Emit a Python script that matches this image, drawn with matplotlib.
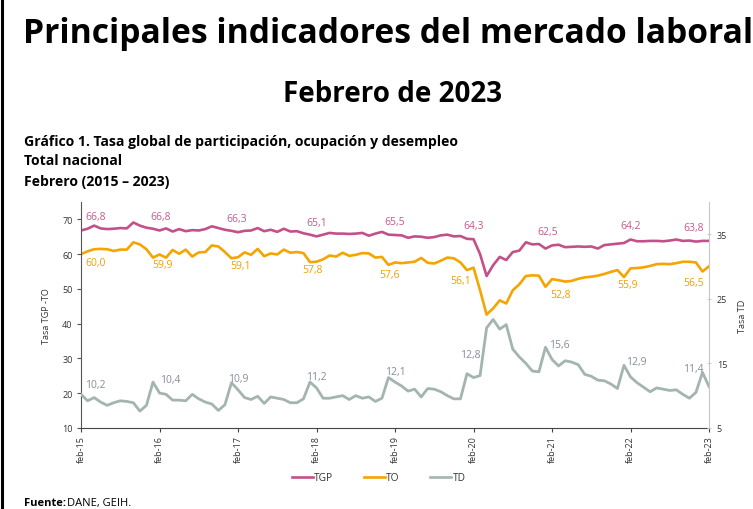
import numpy as np
import matplotlib
matplotlib.use('Agg')
import matplotlib.pyplot as plt
from matplotlib.lines import Line2D

plt.rcParams['font.family'] = ['Open Sans', 'DejaVu Sans']

# monthly series, feb-2015 .. feb-2023
tgp = [66.8, 67.3, 68.2, 67.4, 67.2, 67.3, 67.5, 67.4, 69.1, 68.2, 67.6, 67.3,
       66.8, 67.4, 66.5, 67.2, 66.6, 66.9, 66.8, 67.2, 68.0, 67.5, 67.0, 66.7,
       66.3, 66.7, 66.8, 67.5, 66.6, 67.0, 66.4, 67.3, 66.5, 66.6, 66.0, 65.6,
       65.1, 65.6, 66.1, 65.9, 65.9, 65.8, 65.9, 66.1, 65.3, 65.9, 66.4, 65.6,
       65.5, 65.4, 64.7, 65.1, 65.0, 64.7, 64.9, 65.4, 65.6, 65.1, 65.2, 64.4,
       64.3, 60.0, 53.7, 56.8, 59.2, 58.3, 60.6, 61.0, 63.4, 62.8, 62.9, 61.6,
       62.5, 62.7, 62.0, 62.1, 62.2, 62.1, 62.2, 61.6, 62.6, 62.8, 63.0, 63.2,
       64.2, 63.7, 63.7, 63.8, 63.8, 63.7, 63.9, 64.2, 63.8, 63.9, 63.6, 63.8,
       63.8]
to = [60.0, 60.8, 61.4, 61.5, 61.4, 60.9, 61.3, 61.3, 63.4, 62.8, 61.4, 59.0,
      59.9, 59.0, 61.2, 60.1, 61.3, 59.3, 60.5, 60.6, 62.5, 62.2, 60.6, 58.8,
      59.1, 60.5, 59.8, 61.5, 59.4, 60.2, 59.9, 61.3, 60.4, 60.6, 60.3, 57.7,
      57.8, 58.5, 59.6, 59.3, 60.4, 59.5, 59.8, 60.3, 60.2, 59.0, 59.2, 56.9,
      57.6, 57.4, 57.6, 57.8, 58.9, 57.5, 57.3, 58.1, 59.0, 58.8, 57.6, 55.4,
      56.1, 49.6, 42.6, 44.4, 46.7, 45.8, 49.6, 51.3, 53.7, 53.9, 53.8, 50.6,
      52.8, 52.5, 52.1, 52.3, 52.9, 53.3, 53.5, 53.8, 54.3, 54.9, 55.4, 53.4,
      55.9, 56.0, 56.2, 56.6, 57.1, 57.2, 57.1, 57.4, 57.8, 57.8, 57.6, 55.0,
      56.5]
td = [10.2, 9.2, 9.7, 9.0, 8.5, 8.9, 9.2, 9.1, 8.9, 7.6, 8.5, 12.1,
      10.4, 10.2, 9.3, 9.3, 9.2, 10.2, 9.5, 9.0, 8.7, 7.7, 8.6, 12.0,
      10.9, 9.7, 9.4, 9.9, 8.8, 9.8, 9.6, 9.4, 8.9, 8.9, 9.5, 12.1,
      11.2, 9.6, 9.6, 9.8, 10.0, 9.4, 10.0, 9.6, 9.8, 9.1, 9.6, 12.8,
      12.1, 11.5, 10.7, 11.0, 9.8, 11.1, 11.0, 10.6, 10.0, 9.5, 9.5, 13.4,
      12.8, 13.1, 20.5, 21.8, 20.3, 21.0, 17.2, 16.0, 15.0, 13.8, 13.7, 17.5,
      15.6, 14.6, 15.4, 15.2, 14.8, 13.3, 13.0, 12.4, 12.3, 11.8, 11.1, 14.7,
      12.9, 12.0, 11.3, 10.6, 11.2, 11.0, 10.8, 10.9, 10.2, 9.6, 10.5, 13.6,
      11.4]

x_labels = ['feb-15', 'feb-16', 'feb-17', 'feb-18', 'feb-19',
            'feb-20', 'feb-21', 'feb-22', 'feb-23']

c_tgp = '#C4508A'
c_to = '#F5A400'
c_td = '#A4B4B1'

fig = plt.figure(figsize=(7.53, 5.10), dpi=100)
ax = fig.add_axes([0.1076, 0.159, 0.834, 0.443])
ax2 = ax.twinx()

x = np.arange(len(tgp))
feb = x[::12]

ax.plot(x, tgp, color=c_tgp, lw=1.9, solid_joinstyle='round')
ax.plot(x, to, color=c_to, lw=1.9, solid_joinstyle='round')
ax2.plot(x, td, color=c_td, lw=2.0, solid_joinstyle='round')

ax.set_xlim(0, len(tgp) - 1)
ax.set_ylim(10, 75)
ax.set_yticks(range(10, 71, 10))
ax2.set_ylim(5, 40)
ax2.set_yticks([5, 15, 25, 35])
ax.set_xticks(feb)
ax.set_xticklabels(x_labels, rotation=90)

for a in (ax, ax2):
    a.spines['top'].set_visible(False)
ax.spines['left'].set_color('#555555')
ax.spines['bottom'].set_color('#444444')
ax.spines['right'].set_visible(False)
ax2.spines['left'].set_visible(False)
ax2.spines['bottom'].set_visible(False)
ax2.spines['right'].set_color('#C8C8C8')
ax.tick_params(axis='y', labelsize=6.5, length=3, color='#555555', labelcolor='#333333', pad=3)
ax.tick_params(axis='x', labelsize=6.5, length=3, color='#444444', labelcolor='#333333', pad=2)
ax2.tick_params(axis='y', labelsize=6.5, length=3, direction='inout', color='#C8C8C8',
                labelcolor='#333333', pad=4)

ax.set_ylabel('Tasa TGP -TO', fontsize=6.5, color='#333333', labelpad=8)
ax2.set_ylabel('Tasa TD', fontsize=6.5, color='#333333', labelpad=8)


def fmt(v):
    return f'{v:.1f}'.replace('.', ',')


def label_series(axis, vals, color, dys, va, dxs):
    n = len(feb)
    for k, i in enumerate(feb):
        ha = 'center'
        dx = dxs[k]
        if k == 0:
            ha = 'left'
        elif k == n - 1:
            ha = 'right'
        axis.annotate(fmt(vals[i]), (i, vals[i]), xytext=(dx, dys[k]),
                      textcoords='offset points', ha=ha, va=va,
                      fontsize=7.5, color=color)


# label nudges (points), as placed in the original chart
label_series(ax, tgp, '#C45A8F', [6] * 9, 'bottom',
             [3, 1, -1, 0, 0, 0, -3, 0, -4])
label_series(ax, to, '#F0A000', [-2, -3.5, -2, -1.5, -5, -5, -7, -8, -8], 'top',
             [3, 2, 2, -3, -4, -9, 6, -2, -4])
label_series(ax2, td, '#868C99', [3, 6, 4, 4, 4, 12.5, 7, 7, 9], 'bottom',
             [3, 8, 0, 0, 0, -2, 5, 4, -4])

handles = [Line2D([], [], color=c_tgp, lw=1.9),
           Line2D([], [], color=c_to, lw=1.9),
           Line2D([], [], color=c_td, lw=1.9)]
fig.legend(handles, ['TGP', 'TO', 'TD'], loc='center', bbox_to_anchor=(0.503, 0.061),
           ncol=3, frameon=False, fontsize=7.3, handlelength=2.1, handletextpad=0.1,
           columnspacing=3.0, labelcolor='#333333')

fig.text(0.03, 0.933, 'Principales indicadores del mercado laboral',
         fontsize=24.2, fontweight='bold', va='center', ha='left', color='black')
fig.text(0.521, 0.814, 'Febrero de 2023', fontsize=20, fontweight='bold',
         va='center', ha='center', color='black')
fig.text(0.032, 0.7216, 'Gráfico 1. Tasa global de participación, ocupación y desempleo',
         fontsize=10.1, fontweight='bold', va='center')
fig.text(0.032, 0.6843, 'Total nacional', fontsize=10.1, fontweight='bold', va='center')
fig.text(0.032, 0.643, 'Febrero (2015 – 2023)', fontsize=10.1, fontweight='bold', va='center')
fig.text(0.032, 0.0137, 'Fuente:', fontsize=8, fontweight='bold', va='center')
fig.text(0.089, 0.0137, 'DANE, GEIH.', fontsize=8, va='center')

fig.add_artist(Line2D([0.002, 0.002], [0, 1], color='black', lw=2.2,
                      transform=fig.transFigure))

fig.savefig('out.png', dpi=100)
